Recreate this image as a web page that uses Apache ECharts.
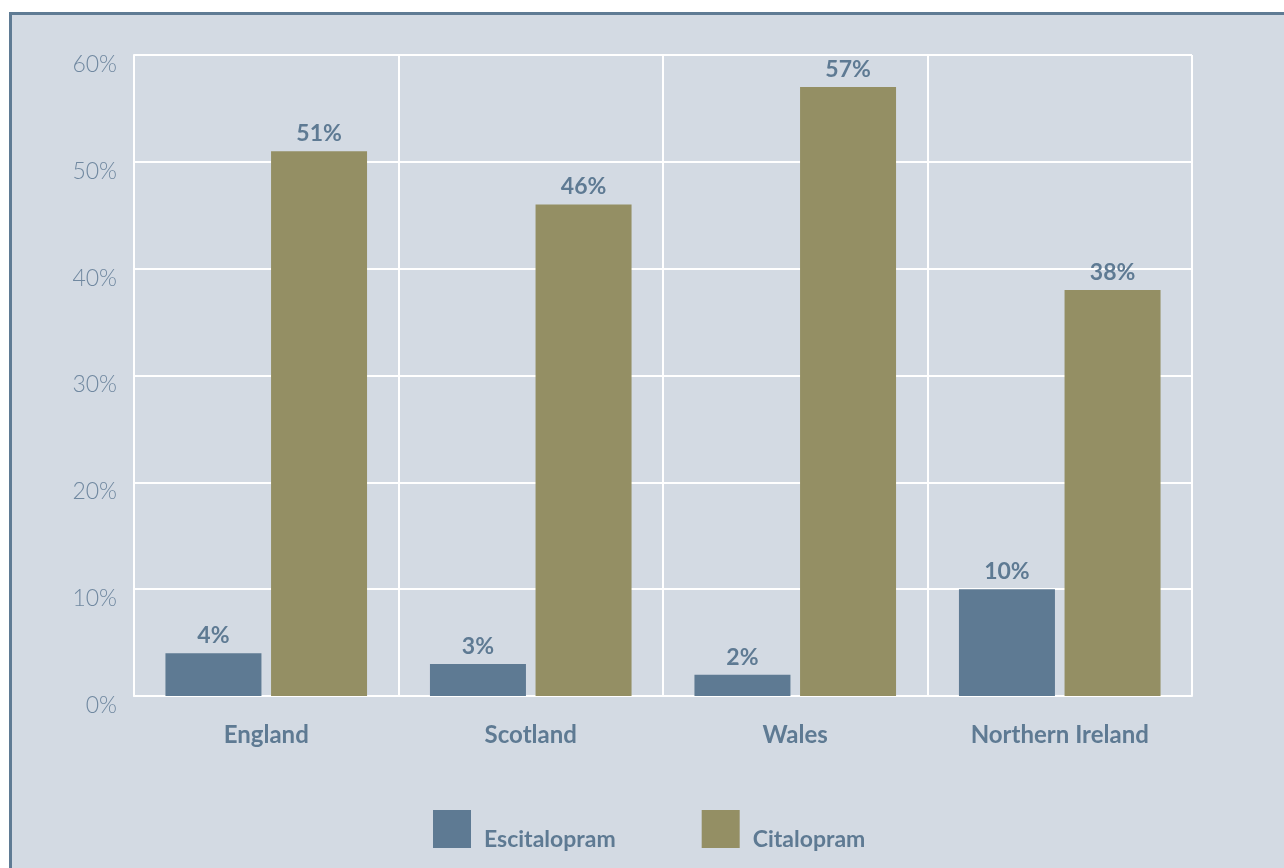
<!DOCTYPE html>
<html><head><meta charset="utf-8">
<style>html,body{margin:0;padding:0;background:#fff;}#c{width:1284px;height:868px;}</style>
<script src="https://cdn.jsdelivr.net/npm/echarts@6/dist/echarts.min.js"></script>
</head><body><div id="c"></div>
<script>
const categories = ['England', 'Scotland', 'Wales', 'Northern Ireland'];
const escitalopram = [4, 3, 2, 10];
const citalopram = [51, 46, 57, 38];
const seriesNames = ['Escitalopram', 'Citalopram'];

const chart = echarts.init(document.getElementById('c'));
const labelStyle = {show: true, position: 'top', distance: 6, formatter: '{c}%', color: '#5e7a93', fontFamily: 'Lato', fontWeight: 'bold', fontSize: 23};
chart.setOption({
  animation: false,
  backgroundColor: '#ffffff',
  graphic: [{type: 'rect', z: -10, shape: {x: 10.5, y: 13.5, width: 1400, height: 1000}, style: {fill: '#d3dae3', stroke: '#5f7b94', lineWidth: 3}}],
  grid: {left: 134, right: 92, top: 55, bottom: 172, containLabel: false},
  legend: {
    left: 433, top: 806, padding: 0, itemWidth: 38, itemHeight: 38, itemGap: 86, icon: 'rect',
    formatter: '{g|}\n{n|{name}}',
    textStyle: {
      color: '#5e7a93', fontFamily: 'Lato', fontWeight: 'bold', fontSize: 23, padding: [0, 0, 0, 8],
      rich: {g: {height: 22, lineHeight: 22}, n: {color: '#5e7a93', fontFamily: 'Lato', fontWeight: 'bold', fontSize: 23}}
    },
    data: seriesNames
  },
  xAxis: {
    type: 'category', data: categories,
    axisLine: {show: true, lineStyle: {color: '#ffffff', width: 2}},
    axisTick: {show: false},
    splitLine: {show: true, lineStyle: {color: '#ffffff', width: 2}},
    axisLabel: {color: '#5e7a93', fontFamily: 'Lato', fontWeight: 'bold', fontSize: 24, margin: 27}
  },
  yAxis: {
    type: 'value', min: 0, max: 60, interval: 10,
    axisLine: {show: true, lineStyle: {color: '#ffffff', width: 2}},
    axisTick: {show: false},
    splitLine: {show: true, lineStyle: {color: '#ffffff', width: 2}},
    axisLabel: {formatter: '{value}%', color: '#7088a0', fontFamily: 'Lato', fontWeight: 300, fontSize: 23, margin: 17, verticalAlign: 'top', lineHeight: 19}
  },
  series: [
    {name: seriesNames[0], type: 'bar', data: escitalopram, barWidth: 96, barGap: '10%', itemStyle: {color: '#5e7a93'}, label: labelStyle},
    {name: seriesNames[1], type: 'bar', data: citalopram, barWidth: 96, barGap: '10%', itemStyle: {color: '#948f64'}, label: labelStyle}
  ]
});
</script></body></html>
